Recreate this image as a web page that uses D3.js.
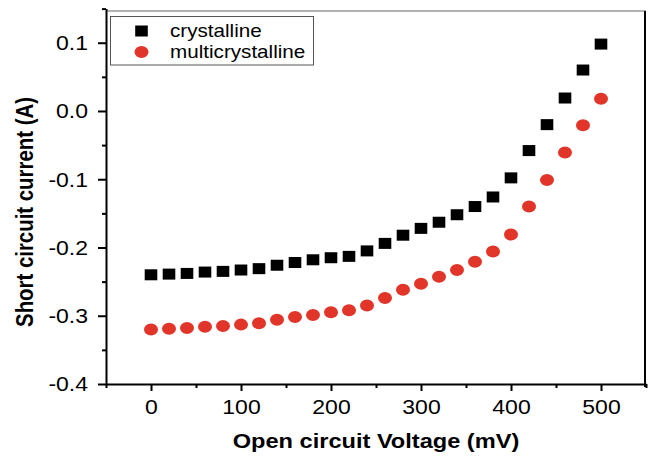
<!DOCTYPE html>
<html lang="en">
<head>
    <meta charset="UTF-8">
    <title>Short circuit current vs open circuit voltage</title>
    <script src="https://d3js.org/d3.v7.min.js"></script>
    <style>
        body { margin: 0; background: #fff; }
        text { font-family: "Liberation Sans", Arial, sans-serif; fill: #000; }
    </style>
</head>
<body>
    <div id="chart"></div>
    <script>
        // Data (mV, A)
        var voltages = [0, 20, 40, 60, 80, 100, 120, 140, 160, 180, 200, 220, 240,
                        260, 280, 300, 320, 340, 360, 380, 400, 420, 440, 460, 480, 500];
        var crystalline = [-0.240, -0.239, -0.238, -0.236, -0.235, -0.233, -0.231, -0.226, -0.222,
                           -0.218, -0.215, -0.213, -0.205, -0.194, -0.182, -0.172, -0.163, -0.152,
                           -0.140, -0.126, -0.098, -0.058, -0.020, 0.019, 0.060, 0.098];
        var multicrystalline = [-0.320, -0.319, -0.318, -0.316, -0.315, -0.313, -0.311, -0.306, -0.302,
                                -0.299, -0.295, -0.292, -0.285, -0.274, -0.262, -0.253, -0.243, -0.233,
                                -0.221, -0.206, -0.181, -0.140, -0.101, -0.061, -0.021, 0.018];
        var seriesNames = ["crystalline", "multicrystalline"];

        var xTicks = [0, 100, 200, 300, 400, 500];
        var xMinorTicks = [-50, 50, 150, 250, 350, 450, 550];
        var yTicks = [-0.4, -0.3, -0.2, -0.1, 0.0, 0.1];
        var yTickLabels = ["-0.4", "-0.3", "-0.2", "-0.1", "0.0", "0.1"];
        var yMinorTicks = [-0.35, -0.25, -0.15, -0.05, 0.05, 0.15];

        var width = 648, height = 456;
        var sx = 1.18; // the original picture is a bit stretched sideways
        var red = "#e2352a";

        var svg = d3.select("#chart").append("svg")
            .attr("width", width)
            .attr("height", height);

        var x = d3.scaleLinear().domain([-50, 550]).range([106, 646]);
        var y = d3.scaleLinear().domain([-0.4, 0.15]).range([384, 8.6]);

        // frame: thin grey top, black right side
        svg.append("line")
            .attr("x1", 106).attr("x2", 646)
            .attr("y1", 11).attr("y2", 11)
            .attr("stroke", "#666").attr("stroke-width", 1.2);
        svg.append("line")
            .attr("x1", 645).attr("x2", 645)
            .attr("y1", 11).attr("y2", 387)
            .attr("stroke", "#000").attr("stroke-width", 2);

        // x axis
        var gx = svg.append("g").attr("transform", "translate(0,384)");
        gx.call(d3.axisBottom(x).tickValues(xTicks).tickSize(7).tickSizeOuter(0));
        svg.append("g").attr("transform", "translate(0,384)")
            .call(d3.axisBottom(x).tickValues(xMinorTicks).tickSize(4).tickSizeOuter(0).tickFormat(""))
            .select(".domain").remove();

        // y axis
        var gy = svg.append("g").attr("transform", "translate(106,0)");
        gy.call(d3.axisLeft(y).tickValues(yTicks).tickSize(8).tickSizeOuter(0)
            .tickFormat(function(d, i) { return yTickLabels[i]; }));
        svg.append("g").attr("transform", "translate(106,0)")
            .call(d3.axisLeft(y).tickValues(yMinorTicks).tickSize(4).tickSizeOuter(0).tickFormat(""))
            .select(".domain").remove();

        svg.selectAll(".domain, .tick line")
            .attr("stroke", "#000")
            .attr("stroke-width", 2);

        gx.selectAll(".tick text")
            .attr("y", 30).attr("dy", 0)
            .attr("transform", "scale(" + sx + ",1)")
            .style("font-family", "'Liberation Sans', Arial, sans-serif")
            .style("font-size", "19.5px");

        gy.selectAll(".tick text")
            .attr("x", -18 / sx).attr("dy", "0.35em")
            .attr("transform", "scale(" + sx + ",1)")
            .style("font-family", "'Liberation Sans', Arial, sans-serif")
            .style("font-size", "19.5px");

        // axis titles
        svg.append("text")
            .attr("transform", "translate(376,448) scale(" + sx + ",1)")
            .attr("text-anchor", "middle")
            .style("font-size", "20px")
            .style("font-weight", "bold")
            .text("Open circuit Voltage (mV)");

        svg.append("text")
            .attr("transform", "translate(33,212) scale(" + sx + ",1) rotate(-90)")
            .attr("text-anchor", "middle")
            .style("font-size", "20.4px")
            .style("font-weight", "bold")
            .text("Short circuit current (A)");

        // points
        svg.append("g").selectAll("rect")
            .data(crystalline)
            .enter()
                .append("rect")
                .attr("x", function(d, i) { return x(voltages[i]) - 6.3; })
                .attr("y", function(d) { return y(d) - 5.5; })
                .attr("width", 12.6)
                .attr("height", 11)
                .attr("fill", "#000");

        svg.append("g").selectAll("ellipse")
            .data(multicrystalline)
            .enter()
                .append("ellipse")
                .attr("cx", function(d, i) { return x(voltages[i]); })
                .attr("cy", function(d) { return y(d); })
                .attr("rx", 7)
                .attr("ry", 6)
                .attr("fill", red);

        // legend
        var legend = svg.append("g");
        legend.append("rect")
            .attr("x", 110.5).attr("y", 16.5)
            .attr("width", 203).attr("height", 48.5)
            .attr("fill", "#fff")
            .attr("stroke", "#555").attr("stroke-width", 1);
        legend.append("rect")
            .attr("x", 141.5 - 6.3).attr("y", 31 - 5.5)
            .attr("width", 12.6).attr("height", 11)
            .attr("fill", "#000");
        legend.append("ellipse")
            .attr("cx", 141.5).attr("cy", 52)
            .attr("rx", 7).attr("ry", 6)
            .attr("fill", red);
        legend.selectAll("text.lbl")
            .data(seriesNames)
            .enter()
                .append("text")
                .attr("class", "lbl")
                .attr("transform", function(d, i) { return "translate(170," + (36.5 + i * 21) + ") scale(" + sx + ",1)"; })
                .style("font-size", "17.5px")
                .text(function(d) { return d; });
    </script>
</body>
</html>
